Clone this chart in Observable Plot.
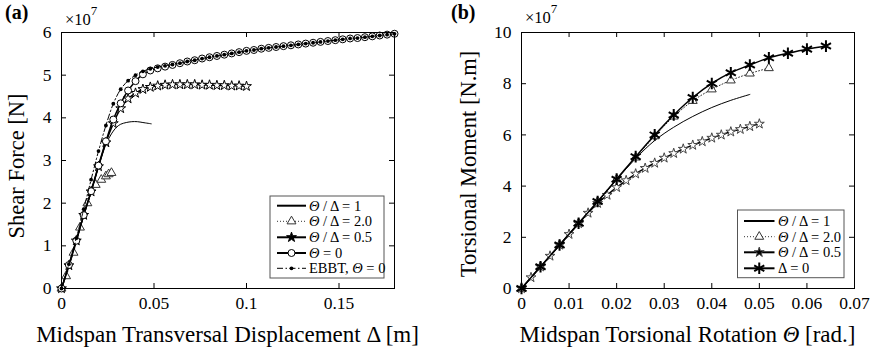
<!DOCTYPE html>
<html><head><meta charset="utf-8">
<script src="https://cdn.jsdelivr.net/npm/d3@7"></script>
<script src="https://cdn.jsdelivr.net/npm/@observablehq/plot@0.6"></script>
<style>
body{margin:0;background:#fff;font-family:"Liberation Serif",serif;}
#wrap{position:relative;width:876px;height:351px;overflow:hidden;}
.panel{position:absolute;top:0;}
</style></head><body>
<div id="wrap"><div class="panel" id="pa" style="left:0"></div><div class="panel" id="pb" style="left:438px"></div></div>
<script>
// ---------- Panel (a) data: Shear force (x1e7 N) vs midspan displacement (m)
const xTicksA = [0, 0.05, 0.1, 0.15];
const yTicksA = [0, 1, 2, 3, 4, 5, 6];
const dispGridA = [0,0.004,0.008,0.012,0.016,0.02,0.024,0.028,0.032,0.036,0.04,0.044,0.048,0.052,0.056,0.06,0.064,0.068,0.072,0.076,0.08,0.084,0.088,0.092,0.096,0.1,0.104,0.108,0.112,0.116,0.12,0.124,0.128,0.132,0.136,0.14,0.144,0.148,0.152,0.156,0.16,0.164,0.168,0.172,0.176,0.18];
const shearTheta0 = [0,0.55,1.12,1.72,2.28,2.88,3.45,3.96,4.34,4.64,4.86,5.02,5.11,5.16,5.20,5.24,5.28,5.32,5.35,5.39,5.42,5.45,5.48,5.51,5.54,5.57,5.59,5.62,5.64,5.66,5.68,5.70,5.72,5.74,5.76,5.78,5.80,5.82,5.84,5.86,5.87,5.89,5.91,5.93,5.95,5.97];
const shearEBBT = [0,0.57,1.18,1.86,2.55,3.22,3.82,4.33,4.67,4.87,5.00,5.09,5.15,5.19,5.22,5.25,5.28,5.32,5.35,5.39,5.42,5.45,5.48,5.51,5.54,5.57,5.59,5.62,5.64,5.66,5.68,5.70,5.72,5.74,5.76,5.78,5.80,5.82,5.84,5.86,5.87,5.89,5.91,5.93,5.95,5.97];
const dispR05A = [0,0.004,0.008,0.012,0.016,0.02,0.024,0.028,0.032,0.036,0.04,0.044,0.048,0.052,0.056,0.06,0.064,0.068,0.072,0.076,0.08,0.084,0.088,0.092,0.096,0.1];
const shearR05 = [0,0.54,1.12,1.72,2.27,2.86,3.42,3.87,4.22,4.45,4.58,4.67,4.72,4.75,4.77,4.78,4.78,4.78,4.78,4.77,4.77,4.76,4.76,4.75,4.75,4.74];
const dispR1A = [0,0.008,0.016,0.024,0.026,0.028,0.03,0.032,0.035,0.038,0.041,0.044,0.0485];
const shearR1 = [0,1.12,2.27,3.38,3.55,3.69,3.79,3.85,3.89,3.91,3.91,3.89,3.86];
const dispR2A = [0,0.0025,0.0065,0.01,0.014,0.0185,0.0215,0.024,0.0255,0.027];
const shearR2 = [0,0.29,0.84,1.43,2.0,2.43,2.55,2.63,2.68,2.71];

// ---------- Panel (b) data: Torsional moment (x1e7 N.m) vs rotation (rad)
const xTicksB = [0, 0.01, 0.02, 0.03, 0.04, 0.05, 0.06, 0.07];
const yTicksB = [0, 2, 4, 6, 8, 10];
const rotD0 = [0,0.004,0.008,0.012,0.016,0.02,0.024,0.028,0.032,0.036,0.04,0.044,0.048,0.052,0.056,0.06,0.064];
const momD0 = [0,0.85,1.70,2.55,3.40,4.27,5.15,6.00,6.78,7.46,8.01,8.43,8.73,9.01,9.19,9.35,9.47];
const rotR2 = [0,0.004,0.008,0.012,0.016,0.02,0.024,0.028,0.032,0.036,0.04,0.044,0.048,0.052];
const momR2 = [0,0.85,1.70,2.55,3.40,4.27,5.12,5.95,6.72,7.33,7.78,8.13,8.40,8.61];
const rotR05 = [0,0.002,0.004,0.006,0.008,0.01,0.012,0.014,0.016,0.018,0.02,0.022,0.024,0.026,0.028,0.03,0.032,0.034,0.036,0.038,0.04,0.042,0.044,0.046,0.048,0.05];
const momR05 = [0,0.43,0.85,1.27,1.70,2.12,2.54,2.95,3.33,3.65,3.95,4.22,4.48,4.70,4.90,5.10,5.28,5.45,5.60,5.74,5.88,6.00,6.12,6.22,6.33,6.43];
const rotR1 = [0,0.008,0.016,0.02,0.024,0.028,0.032,0.036,0.04,0.044,0.048];
const momR1 = [0,1.68,3.37,4.25,5.08,5.78,6.30,6.72,7.07,7.35,7.58];

const FONT = "Liberation Serif";
const zip = (xs, ys) => xs.map((x, i) => ({x, y: ys[i]}));
const symbolMap = {star: d3.symbolStar, triangle: d3.symbolTriangle, circle: d3.symbolCircle, asterisk: d3.symbolAsterisk};

function seriesMarks(s) {
  const data = zip(s.xs, s.ys);
  const m = [];
  m.push(Plot.line(data, {x: "x", y: "y", stroke: s.stroke, strokeWidth: s.width, strokeDasharray: s.dash, curve: "catmull-rom"}));
  if (s.symbol) m.push(Plot.dot(data, {x: "x", y: "y", symbol: s.symbol, r: s.r, fill: s.fill, stroke: s.mstroke, strokeWidth: s.msw}));
  return m;
}

function panel(cfg) {
  const W = 438, H = 351;
  const fw = W - cfg.ml - cfg.mr, fh = H - cfg.mt - cfg.mb;
  const tl = 5;
  const fmt = d => String(d);
  const marks = [
    Plot.axisX({ticks: cfg.xTicks, tickSize: 0, tickPadding: 8, tickFormat: fmt, label: null, fontSize: 17.5, fontFamily: FONT}),
    Plot.axisY({ticks: cfg.yTicks, tickSize: 0, tickPadding: 10, tickFormat: fmt, label: null, fontSize: 17.5, fontFamily: FONT}),
    Plot.ruleX(cfg.xTicks, {x: d => d, insetTop: fh - tl, stroke: "black"}),
    Plot.ruleX(cfg.xTicks, {x: d => d, insetBottom: fh - tl, stroke: "black"}),
    Plot.ruleY(cfg.yTicks, {y: d => d, insetRight: fw - tl, stroke: "black"}),
    Plot.ruleY(cfg.yTicks, {y: d => d, insetLeft: fw - tl, stroke: "black"}),
    ...cfg.series.flatMap(seriesMarks),
    Plot.frame({stroke: "black", strokeWidth: 1})
  ];
  const svg = Plot.plot({
    width: W, height: H,
    marginLeft: cfg.ml, marginRight: cfg.mr, marginTop: cfg.mt, marginBottom: cfg.mb,
    style: {fontFamily: FONT, background: "white", overflow: "visible", color: "black"},
    x: {domain: cfg.xDomain, label: null},
    y: {domain: cfg.yDomain, label: null},
    marks
  });
  const g = d3.select(svg).append("g").attr("font-family", FONT).attr("fill", "black").attr("text-anchor", "start");
  // panel tag
  g.append("text").attr("x", cfg.tagX).attr("y", cfg.tagY).attr("font-size", 20).attr("font-weight", "bold").text(cfg.tag);
  // exponent
  const ex = g.append("text").attr("x", cfg.expX).attr("y", cfg.expY).attr("font-size", 16.5);
  ex.append("tspan").text("\u00d710");
  ex.append("tspan").attr("font-size", 13).attr("dy", -10).text("7");
  // axis labels
  const xl = g.append("text").attr("x", cfg.ml + fw / 2).attr("y", cfg.xlY).attr("text-anchor", "middle").attr("font-size", 23);
  cfg.xLabel.forEach(([t, it]) => xl.append("tspan").attr("font-style", it ? "italic" : null).text(t));
  g.append("text").attr("transform", `translate(${cfg.ylX},${cfg.ylY}) rotate(-90)`).attr("text-anchor", "middle").attr("font-size", 22.5).text(cfg.yLabel);
  // legend
  const L = cfg.legend;
  const lg = g.append("g");
  lg.append("rect").attr("x", L.x).attr("y", L.y).attr("width", L.w).attr("height", L.h).attr("fill", "white").attr("stroke", "#555").attr("stroke-width", 1);
  L.rows.forEach((row, i) => {
    const s = row.s, y = L.rowY[i];
    lg.append("line").attr("x1", L.x1).attr("x2", L.x2).attr("y1", y).attr("y2", y)
      .attr("stroke", s.stroke).attr("stroke-width", s.legendWidth || s.width).attr("stroke-dasharray", s.dash || null);
    if (s.symbol) {
      lg.append("path").attr("transform", `translate(${(L.x1 + L.x2) / 2},${y})`)
        .attr("d", d3.symbol(symbolMap[s.symbol], Math.PI * s.r * s.r)())
        .attr("fill", s.legendFill || s.fill).attr("stroke", s.mstroke).attr("stroke-width", s.msw);
    }
    const t = lg.append("text").attr("x", L.tx).attr("y", y).attr("dy", "0.35em").attr("font-size", 14.5).attr("text-anchor", "start");
    row.label.forEach(([txt, it]) => t.append("tspan").attr("font-style", it ? "italic" : null).text(txt));
  });
  return svg;
}

// series styles
const sA_R1 = {xs: dispR1A, ys: shearR1, stroke: "black", width: 1, legendWidth: 2};
const sA_R2 = {xs: dispR2A, ys: shearR2, stroke: "#333", width: 1, dash: "1,2", symbol: "triangle", r: 3.3, fill: "white", mstroke: "#333", msw: 1};
const sA_R05 = {xs: dispR05A, ys: shearR05, stroke: "black", width: 1.5, legendWidth: 2, symbol: "star", r: 3.1, fill: "white", legendFill: "black", mstroke: "black", msw: 1};
const sA_T0 = {xs: dispGridA, ys: shearTheta0, stroke: "black", width: 1.5, legendWidth: 2, symbol: "circle", r: 3.5, fill: "white", mstroke: "black", msw: 1};
const sA_EB = {xs: dispGridA, ys: shearEBBT, stroke: "black", width: 1, dash: "6,2.5,1.5,2.5", symbol: "circle", r: 1.9, fill: "black", mstroke: "none", msw: 0};

const sB_R1 = {xs: rotR1, ys: momR1, stroke: "black", width: 1, legendWidth: 2};
const sB_R2 = {xs: rotR2, ys: momR2, stroke: "#333", width: 1, dash: "1,2", symbol: "triangle", r: 3.3, fill: "white", mstroke: "#333", msw: 1};
const sB_R05 = {xs: rotR05, ys: momR05, stroke: "black", width: 1.5, legendWidth: 2, symbol: "star", r: 3.1, fill: "white", legendFill: "black", mstroke: "#444", msw: 1};
const sB_D0 = {xs: rotD0, ys: momD0, stroke: "black", width: 1.5, legendWidth: 2, symbol: "asterisk", r: 5.5, fill: "none", mstroke: "black", msw: 2};

const TH = "\u0398", DE = "\u0394";

document.getElementById("pa").appendChild(panel({
  ml: 61, mr: 44, mt: 32, mb: 63,
  xDomain: [0, 0.18], yDomain: [0, 6], xTicks: xTicksA, yTicks: yTicksA,
  series: [sA_R1, sA_R2, sA_R05, sA_T0, sA_EB],
  tag: "(a)", tagX: 5, tagY: 19, expX: 65, expY: 25,
  xLabel: [["Midspan Transversal Displacement " + DE + " [m]", false]], xlY: 342,
  yLabel: "Shear Force [N]", ylX: 24, ylY: 166,
  legend: {x: 270, y: 196, w: 114, h: 82, x1: 277, x2: 306, tx: 309,
    rowY: [205.7, 221.3, 237.3, 253, 268.3],
    rows: [
      {s: sA_R1, label: [[TH, true], [" / " + DE + " = 1", false]]},
      {s: sA_R2, label: [[TH, true], [" / " + DE + " = 2.0", false]]},
      {s: sA_R05, label: [[TH, true], [" / " + DE + " = 0.5", false]]},
      {s: sA_T0, label: [[TH, true], [" = 0", false]]},
      {s: sA_EB, label: [["EBBT, ", false], [TH, true], [" = 0", false]]}
    ]}
}));

document.getElementById("pb").appendChild(panel({
  ml: 83, mr: 22, mt: 32, mb: 63,
  xDomain: [0, 0.07], yDomain: [0, 10], xTicks: xTicksB, yTicks: yTicksB,
  series: [sB_R1, sB_R2, sB_R05, sB_D0],
  tag: "(b)", tagX: 13, tagY: 19, expX: 87, expY: 23,
  xLabel: [["Midspan Torsional Rotation ", false], [TH, true], [" [rad.]", false]], xlY: 342,
  yLabel: "Torsional Moment [N.m]", ylX: 38, ylY: 164,
  legend: {x: 299.5, y: 210, w: 106.5, h: 67.7, x1: 306, x2: 336.5, tx: 340,
    rowY: [221, 236.7, 252.3, 268.3],
    rows: [
      {s: sB_R1, label: [[TH, true], [" / " + DE + " = 1", false]]},
      {s: sB_R2, label: [[TH, true], [" / " + DE + " = 2.0", false]]},
      {s: sB_R05, label: [[TH, true], [" / " + DE + " = 0.5", false]]},
      {s: sB_D0, label: [[DE + " = 0", false]]}
    ]}
}));
</script>
</body></html>
